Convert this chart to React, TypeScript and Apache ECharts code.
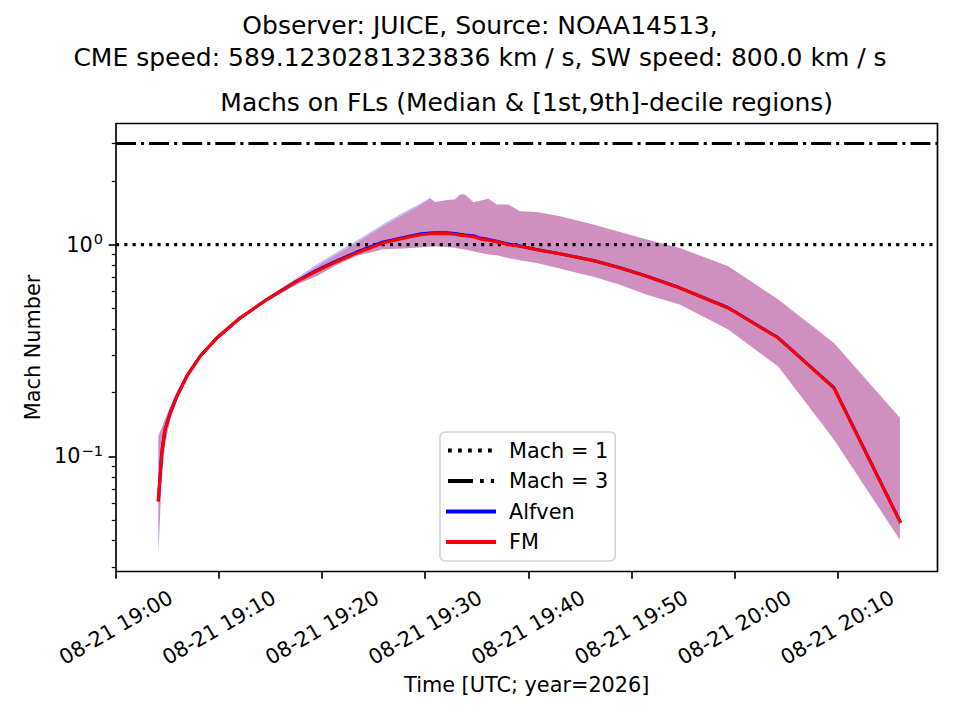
import React, { useEffect, useRef } from "react";
import * as echarts from "echarts";

// Minutes after 2026-08-21 19:00 UTC
const MINUTES = [4.11, 4.44, 4.76, 5.25, 5.9, 6.87, 8.16, 9.78, 12.04, 14.63, 17.54, 19.5, 21.4, 23.36, 25.94, 27.9, 29.4, 30.47, 30.95, 32.08, 32.89, 33.37, 33.86, 34.67, 35.3, 36.12, 36.93, 38.06, 39.2, 40.8, 43.07, 46.3, 48.9, 51.5, 54.7, 59.4, 64.25, 69.65, 76.05];

const FM_MEDIAN = [0.0624, 0.104, 0.134, 0.16, 0.192, 0.239, 0.297, 0.362, 0.45, 0.55, 0.671, 0.752, 0.83, 0.913, 1.019, 1.07, 1.11, 1.125, 1.128, 1.126, 1.118, 1.108, 1.1, 1.09, 1.064, 1.05, 1.03, 1.0, 0.982, 0.946, 0.905, 0.84, 0.776, 0.708, 0.624, 0.502, 0.362, 0.2104, 0.0493];
const FM_LOW = [0.0362, 0.08, 0.115, 0.149, 0.183, 0.232, 0.292, 0.357, 0.445, 0.541, 0.648, 0.71, 0.8, 0.885, 0.95, 0.958, 0.97, 0.98, 0.982, 0.975, 0.965, 0.955, 0.948, 0.93, 0.915, 0.897, 0.89, 0.865, 0.843, 0.818, 0.772, 0.704, 0.647, 0.58, 0.521, 0.397, 0.266, 0.12, 0.0404];
const FM_HIGH = [0.124, 0.135, 0.149, 0.17, 0.2, 0.245, 0.302, 0.366, 0.455, 0.556, 0.685, 0.79, 0.897, 1.019, 1.22, 1.386, 1.52, 1.644, 1.584, 1.619, 1.632, 1.722, 1.722, 1.584, 1.61, 1.644, 1.545, 1.545, 1.436, 1.427, 1.36, 1.243, 1.148, 1.056, 0.9645, 0.79, 0.55, 0.343, 0.152];

const ALF_MEDIAN = [0.0624, 0.104, 0.134, 0.16, 0.192, 0.239, 0.297, 0.362, 0.45, 0.55, 0.672, 0.757, 0.837, 0.922, 1.028, 1.08, 1.12, 1.135, 1.138, 1.136, 1.128, 1.118, 1.11, 1.1, 1.073, 1.058, 1.037, 1.006, 0.985, 0.948, 0.906, 0.841, 0.777, 0.709, 0.625, 0.503, 0.363, 0.211, 0.0494];
const ALF_LOW = [0.034, 0.078, 0.113, 0.148, 0.183, 0.232, 0.292, 0.357, 0.445, 0.541, 0.648, 0.71, 0.8, 0.885, 0.95, 0.958, 0.97, 0.98, 0.982, 0.975, 0.965, 0.955, 0.948, 0.93, 0.915, 0.897, 0.89, 0.865, 0.843, 0.818, 0.772, 0.704, 0.647, 0.58, 0.521, 0.397, 0.266, 0.12, 0.0404];
const ALF_HIGH = [0.126, 0.137, 0.151, 0.172, 0.202, 0.247, 0.304, 0.368, 0.458, 0.562, 0.697, 0.808, 0.92, 1.045, 1.25, 1.42, 1.55, 1.665, 1.59, 1.622, 1.635, 1.722, 1.722, 1.584, 1.61, 1.644, 1.545, 1.545, 1.436, 1.427, 1.36, 1.243, 1.148, 1.056, 0.9645, 0.79, 0.55, 0.343, 0.152];

const MACH_LEVELS = [1, 3];
const X_TICK_MINUTES = [0, 10, 20, 30, 40, 50, 60, 70];
const X_RANGE_MINUTES = [0, 79.7];
const Y_RANGE = [0.0286, 3.73];
const Y_MAJOR_TICKS = [0.1, 1];
const Y_MINOR_TICKS = [0.03, 0.04, 0.05, 0.06, 0.07, 0.08, 0.09, 0.2, 0.3, 0.4, 0.5, 0.6, 0.7, 0.8, 0.9, 2, 3];

const SUPTITLE_1 = "Observer: JUICE, Source: NOAA14513,";
const SUPTITLE_2 = "CME speed: 589.1230281323836 km / s, SW speed: 800.0 km / s";
const AX_TITLE = "Machs on FLs (Median & [1st,9th]-decile regions)";

const T0 = Date.UTC(2026, 7, 21, 19, 0, 0);
const toTs = (m: number) => T0 + m * 60000;
const FONT = "DejaVu Sans";
const pad2 = (n: number) => (n < 10 ? "0" + n : "" + n);

const DOTTED = [3.1, 5.2];
const DASH_DOT = [20, 5, 3.1, 5];
const LEGEND_DOTTED = [3.8, 6.2];
const LEGEND_DASH_DOT = [25, 7, 3.8, 7];
const LEGEND_LW = 4;

function bandSeries(name: string, lows: number[], highs: number[], fill: string) {
  return {
    type: "custom",
    name,
    silent: true,
    z: 1,
    data: MINUTES.map((m, i) => [toTs(m), lows[i], highs[i]]),
    encode: { x: 0, y: [1, 2] },
    renderItem: (params: any, api: any) => {
      if (params.dataIndexInside !== 0) return null;
      const n = params.dataInsideLength;
      const pts: number[][] = [];
      for (let j = 0; j < n; j++) pts.push(api.coord([api.value(0, j), api.value(2, j)]));
      for (let j = n - 1; j >= 0; j--) pts.push(api.coord([api.value(0, j), api.value(1, j)]));
      return { type: "polygon", shape: { points: pts }, style: { fill, stroke: "none" } };
    },
  };
}

function lineSeries(name: string, values: number[], color: string) {
  return {
    type: "line",
    name,
    color,
    symbol: "none",
    showSymbol: false,
    silent: true,
    z: 3,
    data: MINUTES.map((m, i) => [toTs(m), values[i]]),
    lineStyle: { color, width: 3.1, cap: "square", join: "round" },
  };
}

function hLine(name: string, level: number, dash: number[]) {
  return {
    type: "line",
    name,
    color: "#000000",
    symbol: "none",
    showSymbol: false,
    silent: true,
    z: 2,
    data: [
      [toTs(X_RANGE_MINUTES[0]), level],
      [toTs(X_RANGE_MINUTES[1]), level],
    ],
    lineStyle: { color: "#000000", width: 3.1, type: dash, cap: "butt" },
  };
}

export default function App() {
  const ref = useRef<HTMLDivElement>(null);
  useEffect(() => {
    document.body.style.margin = "0";
    if (!ref.current) return;
    const chart = echarts.init(ref.current, null, { renderer: "svg" });
    const xTicks = X_TICK_MINUTES.map(toTs);
    const option: any = {
      animation: false,
      backgroundColor: "#ffffff",
      textStyle: { fontFamily: FONT, color: "#000000" },
      grid: {
        left: 116,
        top: 123.5,
        width: 821.5,
        height: 448,
        show: true,
        borderColor: "#000000",
        borderWidth: 1.67,
        backgroundColor: "transparent",
        containLabel: false,
        outerBoundsMode: "none",
      },
      graphic: [
        { type: "text", x: 480, y: 25.7, silent: true, style: { text: SUPTITLE_1, fontSize: 25, fontFamily: FONT, fill: "#000", align: "center", verticalAlign: "middle" } },
        { type: "text", x: 480, y: 57.4, silent: true, style: { text: SUPTITLE_2, fontSize: 25, fontFamily: FONT, fill: "#000", align: "center", verticalAlign: "middle" } },
        { type: "text", x: 526.7, y: 102.4, silent: true, style: { text: AX_TITLE, fontSize: 25, fontFamily: FONT, fill: "#000", align: "center", verticalAlign: "middle" } },
      ],
      legend: {
        show: true,
        orient: "vertical",
        left: 440,
        top: 432,
        align: "left",
        data: [
          { name: "Mach = 1", lineStyle: { width: LEGEND_LW, type: LEGEND_DOTTED, cap: "butt" } },
          { name: "Mach = 3", lineStyle: { width: LEGEND_LW, type: LEGEND_DASH_DOT, cap: "butt" } },
          { name: "Alfven", lineStyle: { width: LEGEND_LW } },
          { name: "FM", lineStyle: { width: LEGEND_LW } },
        ],
        itemWidth: 46,
        itemHeight: 14,
        itemGap: 8.5,
        padding: [7.5, 7, 8, 6],
        backgroundColor: "rgba(255,255,255,0.8)",
        borderColor: "#d4d4d4",
        borderWidth: 1.67,
        borderRadius: 5,
        selectedMode: false,
        itemStyle: { opacity: 0 },
        lineStyle: { width: LEGEND_LW, opacity: 1 },
        textStyle: { fontSize: 20.8, fontFamily: FONT, color: "#000", lineHeight: 22, padding: [0, 0, 0, 10] },
      },
      xAxis: {
        type: "value",
        min: toTs(X_RANGE_MINUTES[0]),
        max: toTs(X_RANGE_MINUTES[1]),
        scale: true,
        splitLine: { show: false },
        axisLine: { show: false },
        axisTick: { show: true, customValues: xTicks, length: 7.3, lineStyle: { color: "#000", width: 1.67 } },
        minorTick: { show: false },
        axisLabel: {
          customValues: xTicks,
          rotate: 30,
          align: "center",
          verticalAlign: "middle",
          margin: 56,
          fontSize: 20.8,
          fontFamily: FONT,
          color: "#000",
          formatter: (v: number) => {
            const d = new Date(v);
            return pad2(d.getUTCMonth() + 1) + "-" + pad2(d.getUTCDate()) + " " + pad2(d.getUTCHours()) + ":" + pad2(d.getUTCMinutes());
          },
        },
        name: "Time [UTC; year=2026]",
        nameLocation: "middle",
        nameGap: 100,
        nameTextStyle: { fontSize: 20.8, fontFamily: FONT, color: "#000" },
      },
      yAxis: [
        {
          type: "log",
          logBase: 10,
          position: "left",
          min: Y_RANGE[0],
          max: Y_RANGE[1],
          splitLine: { show: false },
          axisLine: { show: false },
          minorTick: { show: false },
          axisTick: { show: true, customValues: Y_MAJOR_TICKS, length: 7.3, lineStyle: { color: "#000", width: 1.67 } },
          axisLabel: {
            customValues: Y_MAJOR_TICKS,
            margin: 13,
            color: "#000",
            formatter: (v: number) => {
              const e = Math.round(Math.log10(v));
              return "{b|10}{s|" + (e < 0 ? "\u2212" + -e : "" + e) + "}";
            },
            rich: {
              b: { fontSize: 20.8, fontFamily: FONT, color: "#000" },
              s: { fontSize: 14.6, fontFamily: FONT, color: "#000", padding: [0, 0, 12, 1] },
            },
          },
          name: "Mach Number",
          nameLocation: "middle",
          nameGap: 70,
          nameTextStyle: { fontSize: 20.8, fontFamily: FONT, color: "#000" },
        },
        {
          type: "log",
          logBase: 10,
          position: "left",
          offset: 0,
          min: Y_RANGE[0],
          max: Y_RANGE[1],
          splitLine: { show: false },
          axisLine: { show: false },
          axisLabel: { show: false },
          minorTick: { show: false },
          axisTick: { show: true, customValues: Y_MINOR_TICKS, length: 4.2, lineStyle: { color: "#000", width: 1.25 } },
        },
      ],
      series: [
        bandSeries("Alfven band", ALF_LOW, ALF_HIGH, "rgba(0,0,255,0.25)"),
        bandSeries("FM band", FM_LOW, FM_HIGH, "rgba(255,0,0,0.25)"),
        hLine("Mach = 1", MACH_LEVELS[0], DOTTED),
        hLine("Mach = 3", MACH_LEVELS[1], DASH_DOT),
        lineSeries("Alfven", ALF_MEDIAN, "#0000ff"),
        lineSeries("FM", FM_MEDIAN, "#ff0000"),
      ],
    };
    chart.setOption(option);
    return () => chart.dispose();
  }, []);
  return <div ref={ref} style={{ width: 960, height: 720 }} />;
}
